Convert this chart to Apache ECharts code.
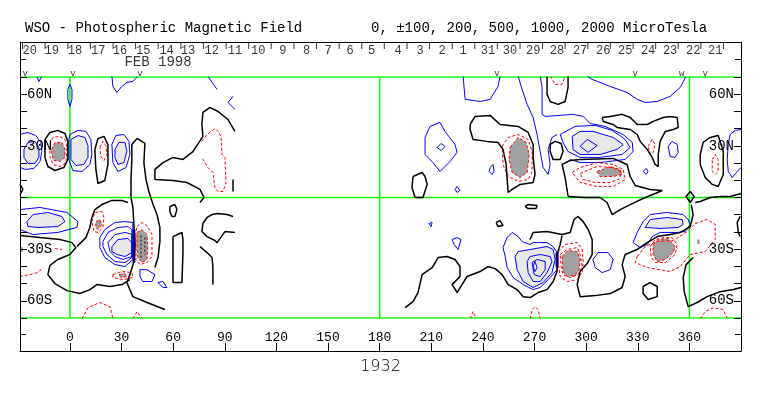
<!DOCTYPE html>
<html><head><meta charset="utf-8">
<script src="https://cdn.jsdelivr.net/npm/echarts@6/dist/echarts.min.js"></script>
<style>html,body{margin:0;padding:0;background:#fff}#c{width:763px;height:396px}</style>
</head><body><div id="c"></div>
<script>
// ---------- axis / label data ----------
const lonMin = -29, lonMax = 390;
const xTicks = [0,30,60,90,120,150,180,210,240,270,300,330,360];
const latTickValues = [60,30,-30,-60];
const latTickText = ['60N','30N','30S','60S'];
const greenLon = [0,180,360];
const greenLat = [70,0,-70];
const dayLabels = ['20','19','18','17','16','15','14','13','12','11','10','9','8','7','6','5','4','3','2','1','31','30','29','28','27','26','25','24','23','22','21'];
const dayLon = [-23.3,-10.6,2.9,16.5,29.1,42.6,56.2,68.6,82.4,95.9,109.5,123.8,137.6,150,162.8,175.4,190.7,203.5,216.3,228.5,243,255.8,269.2,283.1,296.5,309.9,322.7,336,348.8,362.2,375];
const sepLon = [-27.5,-14.4,-1.2,11.9,25.1,38.2,51.3,64.5,77.6,90.8,103.9,117.0,130.2,143.3,156.5,169.6,182.7,195.9,209.0,222.2,235.3,248.4,261.6,274.7,287.8,301.0,314.1,327.3,340.4,353.5,366.7,379.8];
const markLon = [-26,1.8,40.7,248.2,328.5,355.6,369.2];
const markText = ['v','v','v','v','v','w','v'];
const dateLon = 51.2;
const dateText = 'FEB 1998';

// ---------- contour data [lon, lat] ----------
const lightFills = [
 [[-26.7,27.9],[-24.4,32],[-20.3,32.6],[-18,29.1],[-18,23.3],[-20.3,19.8],[-24.4,19.8],[-26.7,23.3]],
 [[0.6,33.7],[4.7,36],[8.7,34.9],[10.5,30.2],[10.5,23.3],[8.1,19.2],[3.5,18.6],[0.6,22.1]],
 [[26.2,27.9],[28.5,32],[32,32],[33.1,26.7],[31.4,20.3],[27.9,19.2],[26.2,23.3]],
 [[-25,-14],[-21.5,-9.9],[-12.8,-8.7],[-4.7,-11],[-2.9,-14],[-7,-16.9],[-18.6,-17.4],[-24.4,-16.9]],
 [[24.4,-28.5],[27.9,-24.4],[33.7,-23.8],[36,-26.2],[36,-32],[32,-34.3],[27.3,-33.1],[24.4,-31.4]],
 [[291.9,35.5],[296.5,38.4],[304,38.4],[315.7,34.9],[321.5,30.8],[318,27.9],[308.1,25],[296.5,25],[292.4,27.9]],
 [[258.7,-34.3],[260.5,-31.4],[267.4,-30.2],[277.3,-28.5],[280.8,-30.2],[282,-36],[280.2,-43.6],[275,-49.4],[269.2,-52.3],[263.4,-48.8],[259.9,-41.9]],
 [[334.3,-17.4],[337.2,-12.8],[347.1,-11.6],[355.8,-12.8],[356.4,-15.7],[353.5,-17.4],[343,-18]]
];
const darkFills = [
 [[-10.5,27.9],[-8.7,32],[-4.7,32],[-2.9,27.9],[-2.9,23.3],[-5.8,20.9],[-9.3,21.5],[-10.5,25]],
 [[15.1,-14],[17.4,-12.8],[18.6,-15.7],[16.3,-18.6],[15.1,-17.4]],
 [[39,-20.3],[41.9,-18.6],[44.8,-21.5],[45.3,-28.5],[44.8,-36],[41.9,-37.8],[39.5,-34.9],[39,-28.5]],
 [[28.5,-44.8],[32,-44.2],[33.1,-45.9],[29.7,-46.5]],
 [[255.8,29.1],[260.5,34.9],[265.1,32],[266.9,25],[265.7,14.5],[261.6,11.6],[257,14.5],[255.2,22.1]],
 [[306.4,15.1],[314,18],[319.8,16.3],[320.9,13.4],[315.7,12.2],[308.1,12.2]],
 [[286,-34.3],[289.5,-30.8],[294.8,-31.4],[296.5,-36],[295.9,-41.9],[293.6,-45.3],[289,-45.9],[286.6,-43]],
 [[338.9,-27.3],[341.9,-24.4],[347.7,-23.8],[351.7,-28.5],[350.6,-32],[346,-36],[341.3,-37.2],[338.9,-33.1]]
];
const grayMarks = [
 [[-29,-28.5],[-27.3,-29.1],[-27.3,-31.4],[-29,-32]],
 [[-20.3,-31.4],[-17.4,-31.4],[-18.6,-33.1]],
 [[364.5,-24.4],[366,-24.4],[366,-27],[364.5,-27]]
];
const blueClosed = [
 [[0,65.7],[1.2,62.8],[1.2,57],[0,52.9],[-1.2,57],[-1.2,62.8]],
 [[0,36.6],[4.7,39],[9.3,38.4],[12.2,33.7],[12.8,25],[11.6,19.2],[7,15.1],[1.7,15.7],[-0.6,22.1],[-0.6,33.7]],
 [[24.4,30.8],[26.7,36],[31.4,36.6],[34.3,32.6],[34.9,25],[32.6,17.4],[27.9,15.1],[25,20.3]],
 [[17.4,-23.3],[20.3,-18.6],[26.2,-14.5],[32,-14],[36.6,-14.5],[36.6,-36],[32,-40.1],[26.2,-39],[20.3,-34.9],[17.4,-29.1]],
 [[19.2,-25.6],[22.1,-20.3],[27.9,-17.4],[33.7,-16.9],[36,-18.6],[36,-34.9],[32,-37.8],[26.2,-37.2],[21.5,-33.1],[19.2,-28.5]],
 [[22.1,-26.2],[26.2,-21.5],[32,-20.3],[36,-21.5],[36,-34.3],[30.8,-36],[26.2,-34.3],[23.3,-31.4]],
 [[40.7,-41.9],[44.8,-41.9],[49.4,-44.8],[47.7,-48.8],[42.4,-48.8],[40.7,-45.9]],
 [[51.2,-49.4],[54.1,-48.8],[56.4,-52.3],[54.1,-52.3]],
 [[206.4,34.9],[209.3,41.3],[215.1,43.6],[218,38.4],[223.8,30.8],[225,26.2],[220.9,20.9],[215.1,15.1],[211,20.3],[206.4,25]],
 [[213.4,29.1],[215.7,31.4],[218,29.7],[215.7,27.3]],
 [[223.8,4.7],[225,6.4],[226.7,4.1],[225,2.9]],
 [[244.2,17.4],[245.9,19.2],[246.5,15.1],[245.3,13.4],[243.6,15.1]],
 [[284.9,36.6],[293.6,41.3],[305.2,41.9],[315.1,39],[322.7,33.7],[325.6,29.1],[320.9,25],[308.1,23.3],[296.5,23.3],[289.5,26.7],[286.6,32]],
 [[296.5,29.7],[300.6,33.7],[306.4,30.2],[301.2,26.2]],
 [[347.7,29.7],[350,32.6],[352.9,30.8],[353.5,26.2],[351.7,23.3],[348.8,23.8]],
 [[333.1,15.1],[334.9,16.9],[336,15.1],[334.9,13.4]],
 [[208.7,-15.1],[210.5,-14.5],[211,-15.1],[209.9,-16.9]],
 [[222.1,-24.4],[225,-23.3],[227.3,-24.4],[225.6,-30.2],[223.3,-27.3]],
 [[251.7,-29.1],[254.1,-23.3],[257,-20.3],[260.5,-22.7],[262.8,-25.6],[267.4,-27.3],[269.2,-26.2],[277.3,-26.2],[280.8,-28.5],[283.1,-32],[283.7,-37.2],[283.1,-41.9],[279.1,-46.5],[273.3,-52.3],[269.2,-53.5],[263.4,-50.6],[257.6,-46.5],[254.1,-40.7],[253,-34.3]],
 [[265.7,-37.2],[267.4,-34.3],[273.3,-33.1],[279.1,-34.3],[280.2,-37.2],[277.3,-43.6],[273.3,-48.8],[269.2,-48.8],[266.3,-43.6]],
 [[268.6,-37.8],[271.5,-36],[276.2,-37.2],[276.2,-41.9],[273.3,-45.9],[269.8,-44.8]],
 [[269.2,-40.1],[270.3,-37.2],[271.5,-40.7],[270.3,-43]],
 [[304,-36],[306.9,-32],[312.8,-32],[315.7,-36],[314,-41.9],[309.3,-43.6],[305.2,-40.7]],
 [[327.3,-26.2],[329.7,-20.3],[333.1,-14],[337.2,-9.9],[347.1,-8.7],[356.4,-9.9],[359.3,-12.8],[360.5,-15.7],[357.6,-19.8],[352.9,-20.3],[343,-20.3],[338.4,-22.7],[335.5,-27.3],[331.4,-29.1]]
];
const blueOpen = [
 [[-29,36.6],[-24.4,37.8],[-19.8,36],[-16.9,32],[-16.3,26.7],[-17.4,20.9],[-20.9,16.9],[-25.6,16.3],[-29,17.4]],
 [[-29,-7],[-17.4,-5.8],[-1.7,-8.7],[4.7,-14],[4.1,-17.4],[-7,-20.3],[-21.5,-21.5],[-29,-18.6]],
 [[80.2,70.5],[82.6,66.9],[85.5,62.8]],
 [[94.8,58.7],[91.9,55.2],[95.9,51.2]],
 [[24.4,70.5],[25,64.5],[27.3,61],[30.2,64.5],[33.1,66.9],[36.6,67.4],[39.5,70.5]],
 [[-19.2,70.5],[-18,67.4],[-16.3,70.5]],
 [[228.5,70.5],[229.7,57],[238.4,55.8],[244.2,57],[248.8,64.5],[250,70.5]],
 [[260.5,70.5],[262.8,62.8],[265.7,54.1],[269.2,46.5],[271.5,36.6],[273.3,26.7],[275,17.4],[277.9,13.4],[279.1,19.2],[277.9,27.9],[280.2,34.9],[283.1,36.6]],
 [[273.3,70.5],[274.4,64],[274.4,48.3],[276.2,47.1],[292.4,48.3],[298.3,47.1],[302.3,43],[311,41.3],[321.5,36.6],[326.8,32],[327.3,26.7],[322.7,22.1],[308.1,20.3],[296.5,20.3],[290.7,22.1]],
 [[300.6,70.5],[303.5,68.6],[308.1,66.9],[314,64.5],[323.8,61],[329.7,57],[334.3,55.2],[341.3,55.8],[348.8,58.7],[354.7,64],[358.1,70.5]],
 [[390,39.5],[386.6,39],[383.7,36.6],[382.6,30.8],[382,22.1],[382.6,15.1],[384.9,11.6],[387.8,15.1],[390,17.4]]
];
const blueThick = [
 [[37.2,-18.6],[37.2,-37.8]],
 [[283.1,-32],[283.1,-40.7]]
];
const redClosed = [
 [[-11.6,30.8],[-9.9,34.9],[-5.8,35.5],[-2.3,33.1],[-1.7,26.7],[-2.3,20.3],[-5.8,18],[-9.9,19.2],[-11.6,23.8]],
 [[17.4,29.1],[19.2,32.6],[20.9,30.2],[21.5,24.4],[19.8,21.5],[18,23.8]],
 [[12.8,-14],[14.5,-8.7],[18.6,-8.1],[19.8,-11.6],[19.2,-17.4],[16.3,-20.3],[14,-19.8]],
 [[39,-16.9],[41.9,-14.5],[45.3,-16.9],[47.7,-21.5],[47.7,-34.3],[44.8,-37.8],[40.7,-39],[38.4,-36],[38.4,-20.3]],
 [[25,-44.8],[30.2,-43],[36,-43.6],[36.6,-46.5],[30.8,-47.7],[25,-46.5]],
 [[251.2,29.7],[254.7,34.9],[260.5,36.6],[266.3,33.7],[268.6,26.7],[268.6,15.1],[266.3,10.5],[260.5,9.3],[254.7,12.2],[251.7,19.2]],
 [[291.9,14.5],[296.5,17.4],[306.4,20.3],[315.7,19.2],[321.5,16.3],[322.7,10.5],[315.7,6.4],[306.4,6.4],[296.5,8.7]],
 [[296.5,14],[306.4,18],[315.1,17.4],[319.8,15.1],[319.8,11],[314,8.7],[305.2,8.7],[298.3,10.5]],
 [[336,29.7],[338.4,33.7],[340.1,30.8],[339,26.2],[337.2,25]],
 [[373.3,22.1],[375,25],[376.7,22.1],[376.7,15.1],[375,13.4],[373.3,15.1]],
 [[283.7,-31.4],[287.8,-27.3],[294.8,-26.2],[297.7,-30.2],[298.3,-37.8],[297.7,-43.6],[294.8,-47.7],[289,-48.8],[284.9,-45.9],[283.7,-37.8]],
 [[284.9,-33.1],[289,-30.2],[294.8,-29.1],[296.5,-33.1],[297.7,-40.1],[295.3,-44.8],[290.7,-46.5],[286.6,-44.8],[285.5,-40.1]],
 [[337.2,-28.5],[340.1,-24.4],[344.8,-23.3],[350,-23.3],[352.9,-27.3],[351.7,-33.1],[346,-37.8],[340.1,-37.8],[337.8,-34.3]],
 [[329.7,-34.3],[334.3,-28.5],[341.3,-25.5],[350.6,-25],[358.7,-19.8],[363.4,-15.1],[370.3,-12.8],[375,-15.7],[375,-24.4],[369.2,-31.4],[360.5,-33.1],[354.7,-40.1],[348.8,-43],[335.5,-40.7],[328.5,-37.8]]
];
const redOpen = [
 [[76.7,32.6],[79.7,36.6],[84.3,40.1],[86,38.4],[87.8,35.5],[88.4,25],[90.1,23.3],[90.7,8.7],[89,3.5],[86,3.5],[84.3,5.8],[83.1,14.5],[80.2,17.4],[78.5,20.3],[76.7,23.3]],
 [[279.1,70.5],[282,65.7],[286,65.7],[287.8,70.5]],
 [[-29,-45.9],[-23.3,-44.8],[-18.6,-43.6],[-15.7,-40.7]],
 [[7,-70.5],[10.5,-64],[17.4,-61],[23.3,-63.4],[25,-70.5]],
 [[36.6,-70.5],[39,-66.3],[42.4,-70.5]],
 [[-8.7,-29.7],[-4.7,-30.2]],
 [[267.4,-70.5],[268.6,-65.1],[270.3,-63.4],[272.1,-65.1],[273.3,-70.5]],
 [[366.3,-70.5],[369.2,-66.3],[373.9,-64],[379.7,-65.1],[382,-70.5]],
 [[232.6,-70.5],[234.3,-66.3],[236,-70.5]]
];
const blackClosed = [
 [[-14.5,33.7],[-11.6,37.8],[-7,39],[-2.9,37.2],[-1.2,32.6],[-1.2,22.1],[-3.5,17.4],[-8.7,15.7],[-12.8,18],[-14.5,23.3]],
 [[14.5,27.9],[16.3,34.3],[19.8,35.5],[22.1,30.8],[22.1,19.2],[20.3,9.9],[16.3,8.1],[15.1,16.3]],
 [[58.1,-5.2],[61,-4.1],[62.2,-7],[61,-11],[59.3,-11],[58.1,-8.1]],
 [[59.9,-22.7],[65.1,-20.3],[65.7,-24.4],[65.7,-32],[65.1,-49.4],[59.9,-49.4],[59.9,-34.3]],
 [[199.4,12.2],[204.7,14.5],[206.4,12.2],[207.6,7.6],[205.2,0],[200.6,0],[198.8,5.8]],
 [[232.6,42.4],[235.5,47.1],[244.2,47.7],[250,42.4],[260.5,41.3],[266.3,37.8],[269.2,30.8],[269.2,23.3],[270.3,13.4],[269.2,8.7],[261.6,7.6],[257,4.7],[254.7,2.9],[254.1,10.5],[253.5,19.2],[251.7,27.9],[248.8,32],[242.4,32.6],[234.3,33.7],[232.6,39.5]],
 [[279.1,30.8],[282,32.6],[285.5,31.4],[286.6,26.7],[284.9,22.1],[280.8,22.1],[279.1,26.7]],
 [[309.3,46.5],[314,47.1],[320.9,48.3],[325.6,46.5],[329.7,42.4],[335.5,42.4],[339,44.2],[344.8,46.5],[348.8,47.1],[352.9,46.5],[353.5,40.7],[350.6,39.5],[346,38.4],[343,32.6],[341.9,25],[341.9,18],[340.1,19.2],[338.4,23.3],[335.5,27.9],[331.4,32.6],[329.7,36.6],[325.6,39.5],[318,40.7],[315.7,42.4],[309.9,44.2]],
 [[366.3,25],[368,32],[372.1,34.9],[376.7,36],[377.9,32.6],[379.7,26.7],[379.7,13.4],[376.7,6.4],[373.3,7.6],[369.2,11.6],[366.3,19.2]],
 [[264.5,-5.2],[266.3,-4.1],[271.5,-4.7],[270.9,-6.4],[266.3,-6.4]],
 [[247.7,-14.5],[250,-13.4],[251.7,-16.3],[248.8,-16.9]],
 [[333.1,-51.7],[337.2,-49.4],[341.3,-51.7],[341.3,-57.6],[336,-59.3],[333.1,-55.8]],
 [[360.5,3.5],[362.8,0.6],[360.5,-2.9],[358.1,0.6]]
];
const blackOpen = [
 [[55.2,-65.1],[44.8,-61],[36.6,-57.6],[33.1,-49.4],[34.9,-44.8],[37.2,-37.2],[37.8,-27.3],[37.2,-15.7],[36.6,-5.8],[35.5,0],[35.5,10.5],[36,22.1],[36,30.8],[39,34.3],[43.6,31.4],[43,20.3],[44.2,10.5],[45.9,3.5],[48.3,-4.1],[50.6,-9.9],[52.3,-17.4],[52.3,-25.6],[51.2,-34.9],[49.4,-40.7]],
 [[95.9,38.4],[91.9,45.3],[86,50],[81.4,52.3],[77.3,49.4],[76.7,42.4],[77.3,35.5],[71.5,26.7],[65.7,22.1],[59.9,23.3],[54.1,20.3],[49.4,16.3],[49.4,10.5],[59.9,9.9],[68,8.7],[75.6,4.7],[77.9,0],[75.6,-2.9]],
 [[94.8,10.5],[94.8,3.5]],
 [[-29,-22.1],[-17.4,-23.3],[-5.8,-24.4],[1.2,-26.2],[3.5,-29.1],[0,-33.1],[-7,-36],[-11.6,-39.5],[-12.8,-44.8],[-8.7,-50],[-1.7,-54.1],[5.8,-55.8],[11.6,-53.5],[15.7,-50.6],[23.3,-51.7],[30.2,-50.6],[34.9,-47.7]],
 [[33.7,-2.9],[30.2,-1.7],[24.4,-1.7],[18.6,-4.1],[14.5,-7],[12.8,-11.6],[11.6,-17.4],[9.3,-23.3],[4.1,-28.5]],
 [[94.8,-11],[91.3,-9.9],[86,-9.3],[82.6,-9.9],[79.7,-11.6],[77.3,-15.1],[76.7,-19.8],[79.7,-22.7],[84.3,-25],[85.5,-26.2],[90.1,-19.8],[95.9,-20.3]],
 [[75.6,-28.5],[79.7,-32],[82.6,-34.9],[83.1,-40.1],[83.1,-50.6]],
 [[277.3,70.5],[277.3,59.9],[279.1,55.8],[283.7,54.1],[287.8,55.8],[289.5,64],[289.5,70.5]],
 [[289.5,0.6],[287.8,11.6],[286,19.2],[290.7,21.5],[296.5,22.1],[315.7,22.7],[323.8,19.2],[325.6,12.2],[328.5,7],[337.2,4.7],[344.2,4.1]],
 [[289.5,0.6],[299.4,0],[308.1,0],[312.2,-2.9],[315.1,-9.9],[319.8,-7],[325.6,-4.1],[333.1,-0.6],[340.1,2.3],[344.2,4.1]],
 [[194.8,-64],[199.4,-60.5],[202.3,-55.2],[204.7,-44.8],[210.5,-40.7],[214,-34.9],[219.2,-34.3],[223.8,-36],[226.7,-40.1],[226.7,-45.9],[222.1,-50.6],[225,-55.2],[230.8,-45.9],[238.4,-43],[243,-40.1],[247.1,-41.3],[251.2,-44.8],[254.7,-50.6],[259.9,-53.5],[263.4,-57.6],[267.4,-58.1],[272.1,-55.2],[277.3,-53.5],[280.8,-48.8],[283.1,-43],[283.1,-33.1],[284.9,-27.3],[286,-22.1]],
 [[267.4,-24.4],[269.2,-20.3],[277.3,-19.8],[286,-21.5],[290.7,-20.3],[293,-12.8],[295.3,-11],[298.3,-14],[301.2,-18.6],[303.5,-24.4],[303.5,-33.1],[300.6,-38.4],[296.5,-43],[294.8,-50.6],[296.5,-57.6],[305.2,-57],[314,-55.8],[320.9,-52.3],[322.7,-45.9],[320.9,-39],[322.7,-33.1],[329.7,-30.2],[335.5,-26.2],[341.3,-22.7],[348.8,-21.5],[354.7,-20.3],[360.5,-16.9],[362.2,-9.9],[361.1,-4.1]],
 [[362.2,-34.9],[358.1,-39],[356.4,-46.5],[357,-54.7],[359.3,-63.4],[364.5,-61],[370.3,-57.6],[377.9,-54.7],[385.5,-53.5],[390,-52.3]],
 [[363.4,-2.9],[366.3,-2.3],[372.1,0],[377.9,0.6],[383.7,0.6],[390,2.3]],
 [[389.5,-11],[387.8,-14.5],[388.4,-20.3],[389.5,-22.7]],
 [[-29,7.6],[-27.3,4.7],[-29,1.7]]
];
const blackDotted = [
 [[41.3,-22.1],[41.3,-34.9]],
 [[43.6,-23.3],[43.6,-33.1]]
];

// ---------- build chart ----------
const FONT = '"Liberation Mono", "DejaVu Sans Mono", monospace';
const chart = echarts.init(document.getElementById('c'), null, {renderer: 'canvas'});
const series = [];

function addLines(list, closed, style, z) {
  list.forEach(pts => {
    const d = closed ? pts.concat([pts[0]]) : pts;
    series.push({type: 'line', xAxisIndex: 0, yAxisIndex: 0, data: d,
      showSymbol: false, symbol: 'none', silent: true, z: z || 3, animation: false,
      lineStyle: style});
  });
}

// green reference lines
const greenStyle = {color: '#00ff00', width: 1.5};
addLines(greenLat.map(v => [[lonMin, v], [lonMax, v]]), false, greenStyle, 1);
addLines(greenLon.map(v => [[v, -70], [v, 70]]), false, greenStyle, 1);

function fillSeries(polys, color) {
  return {
    type: 'custom', xAxisIndex: 0, yAxisIndex: 0, z: 2, silent: true, clip: true,
    animation: false,
    data: polys.map((p, i) => [p[0][0], p[0][1], i]),
    renderItem: (params, api) => {
      const poly = polys[api.value(2)];
      return {type: 'polygon', shape: {points: poly.map(pt => api.coord(pt))},
              style: {fill: color}};
    }
  };
}
series.push(fillSeries(lightFills, '#e8e8e8'));
series.push(fillSeries(darkFills, '#a0a0a0'));
series.push(fillSeries(grayMarks, '#a0a0a0'));

const blueStyle = {color: '#0000ff', width: 1};
const redStyle = {color: '#ff0000', width: 1, type: [3, 2]};
const blackStyle = {color: '#000000', width: 1.5};
addLines(lightFills, true, blueStyle);
addLines(blueClosed, true, blueStyle);
addLines(blueOpen, false, blueStyle);
addLines(blueThick, false, {color: '#0000ff', width: 3});
addLines(darkFills, true, redStyle);
addLines(redClosed, true, redStyle);
addLines(redOpen, false, redStyle);
addLines(blackClosed, true, blackStyle);
addLines(blackOpen, false, blackStyle);
addLines(blackDotted, false, {color: '#000000', width: 1, type: [2, 2]});

// top strip texts
series.push({
  type: 'scatter', xAxisIndex: 1, yAxisIndex: 2, symbolSize: 0, silent: true, animation: false,
  data: dayLabels.map((t, i) => ({name: t, value: [dayLon[i], 1.51]})),
  label: {show: true, position: 'inside', formatter: '{b}', color: '#000', fontFamily: FONT, fontSize: 12}
});
series.push({
  type: 'scatter', xAxisIndex: 1, yAxisIndex: 2, symbol: 'rect', symbolSize: [1, 6], silent: true, animation: false,
  itemStyle: {color: '#000'},
  data: sepLon.map(v => [v, 1.77])
});
series.push({
  type: 'scatter', xAxisIndex: 1, yAxisIndex: 2, symbolSize: 0, silent: true, animation: false,
  data: [{name: dateText, value: [dateLon, 0.86]}],
  label: {show: true, position: 'inside', formatter: '{b}', color: '#000', fontFamily: FONT, fontSize: 14}
});
series.push({
  type: 'scatter', xAxisIndex: 1, yAxisIndex: 2, symbolSize: 0, silent: true, animation: false,
  data: markText.map((t, i) => ({name: t, value: [markLon[i], 0.2]})),
  label: {show: true, position: 'inside', formatter: '{b}', color: '#000', fontFamily: FONT, fontSize: 9}
});

function latFmt(v) {
  const i = latTickValues.indexOf(v);
  return i >= 0 ? latTickText[i] : '';
}
const blackLine = {show: true, onZero: false, lineStyle: {color: '#000', width: 1}};
function latAxis(pos) {
  return {
    gridIndex: 0, type: 'value', min: -70, max: 70, interval: 10, position: pos, z: 10,
    axisLine: blackLine,
    axisTick: {show: true, inside: true, length: 7, lineStyle: {color: '#000'}},
    axisLabel: {show: true, inside: true, margin: 7, formatter: latFmt, color: '#000', fontFamily: FONT, fontSize: 14},
    splitLine: {show: false}
  };
}
function stripAxis(grid, pos) {
  return {
    gridIndex: grid, type: 'value', min: 0, max: 2, interval: 1, position: pos,
    axisLine: blackLine,
    axisTick: {show: true, inside: true, length: 6, lineStyle: {color: '#000'}},
    axisLabel: {show: false}, splitLine: {show: false}
  };
}

chart.setOption({
  animation: false,
  backgroundColor: '#fff',
  title: [
    {text: 'WSO - Photospheric Magnetic Field', left: 25, top: 21, padding: 0,
     textStyle: {fontFamily: FONT, fontSize: 14, fontWeight: 'normal', color: '#000', lineHeight: 14}},
    {text: '0, ±100, 200, 500, 1000, 2000 MicroTesla', left: 371, top: 21, padding: 0,
     textStyle: {fontFamily: FONT, fontSize: 14, fontWeight: 'normal', color: '#000', lineHeight: 14}}
  ],
  grid: [
    {left: 20, top: 77, width: 721, height: 241},
    {left: 20, top: 42, width: 721, height: 35},
    {left: 20, top: 318, width: 721, height: 33}
  ],
  xAxis: [
    {gridIndex: 0, type: 'value', min: lonMin, max: lonMax, show: false, axisLine: {onZero: false}},
    {gridIndex: 1, type: 'value', min: lonMin, max: lonMax, position: 'top',
     axisLine: blackLine, axisTick: {show: false}, axisLabel: {show: false}, splitLine: {show: false}},
    {gridIndex: 2, type: 'value', min: lonMin, max: lonMax, position: 'bottom',
     axisLine: blackLine,
     axisTick: {show: true, inside: true, length: 8, customValues: xTicks, lineStyle: {color: '#000'}},
     axisLabel: {show: true, inside: true, margin: 7, customValues: xTicks, color: '#000', fontFamily: FONT, fontSize: 13},
     splitLine: {show: false},
     name: '1932', nameLocation: 'middle', nameGap: 8,
     nameTextStyle: {fontFamily: '"DejaVu Sans", sans-serif', fontSize: 16, color: '#000', fontWeight: 200}}
  ],
  yAxis: [
    latAxis('left'), latAxis('right'),
    stripAxis(1, 'left'), stripAxis(1, 'right'),
    stripAxis(2, 'left'), stripAxis(2, 'right')
  ],
  series: series
});
</script>
</body></html>
